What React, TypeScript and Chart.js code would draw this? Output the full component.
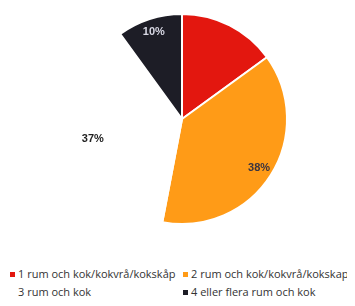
import React, { useEffect, useRef } from "react";
import { Chart, registerables } from "chart.js";

Chart.register(...registerables);

const categories = [
  "1 rum och kok/kokvrå/kokskåp",
  "2 rum och kok/kokvrå/kokskap",
  "3 rum och kok",
  "4 eller flera rum och kok",
];
const shares = [15, 38, 37, 10];
const sliceLabels = ["", "38%", "37%", "10%"];
const colors = ["#e3170f", "#ff9b17", "#ffffff", "#1d1d26"];
const labelColors = ["#ffffff", "#3a3440", "#222222", "#d8d8e4"];

const labelPlugin = {
  id: "sliceLabels",
  afterDatasetsDraw(chart: any) {
    const ctx = chart.ctx;
    const meta = chart.getDatasetMeta(0);
    meta.data.forEach((arc: any, i: number) => {
      const t = sliceLabels[i];
      if (!t) return;
      const { x, y, startAngle, endAngle, outerRadius } = arc.getProps(
        ["x", "y", "startAngle", "endAngle", "outerRadius"],
        true
      );
      const mid = (startAngle + endAngle) / 2;
      const r = outerRadius * 0.87;
      ctx.save();
      ctx.font = "bold 11px 'Liberation Sans', Arial, sans-serif";
      ctx.fillStyle = labelColors[i];
      ctx.textAlign = "center";
      ctx.textBaseline = "middle";
      ctx.fillText(t, x + Math.cos(mid) * r, y + Math.sin(mid) * r);
      ctx.restore();
    });
  },
};

export default function App() {
  const ref = useRef<HTMLCanvasElement | null>(null);
  useEffect(() => {
    if (!ref.current) return;
    const chart = new Chart(ref.current, {
      type: "pie",
      data: {
        labels: categories,
        datasets: [
          {
            data: shares,
            backgroundColor: colors,
            borderColor: "#ffffff",
            borderWidth: 2,
          },
        ],
      },
      options: {
        animation: false,
        responsive: false,
        layout: { padding: { left: 9, top: 5, bottom: 11 } },
        plugins: {
          legend: { display: false },
          tooltip: { enabled: false },
        },
      },
      plugins: [labelPlugin],
    });
    return () => chart.destroy();
  }, []);

  const legendPos = [
    { left: 2, top: 258 },
    { left: 175, top: 258 },
    { left: 2, top: 276 },
    { left: 175, top: 276 },
  ];

  return (
    <div style={{ position: "relative", width: 347, height: 290, overflow: "hidden" }}>
      <canvas ref={ref} width={339} height={228} style={{ display: "block" }} />
      {categories.map((c, i) => (
        <div
          key={c}
          style={{
            position: "absolute",
            left: legendPos[i].left,
            top: legendPos[i].top,
            display: "flex",
            alignItems: "center",
            fontFamily: "'Open Sans', sans-serif",
            fontSize: 11,
            color: "#333",
            whiteSpace: "nowrap",
            lineHeight: "16px",
          }}
        >
          <span
            style={{
              display: "inline-block",
              width: 5,
              height: 5,
              background: colors[i],
              marginRight: 3,
            }}
          />
          {c}
        </div>
      ))}
    </div>
  );
}
